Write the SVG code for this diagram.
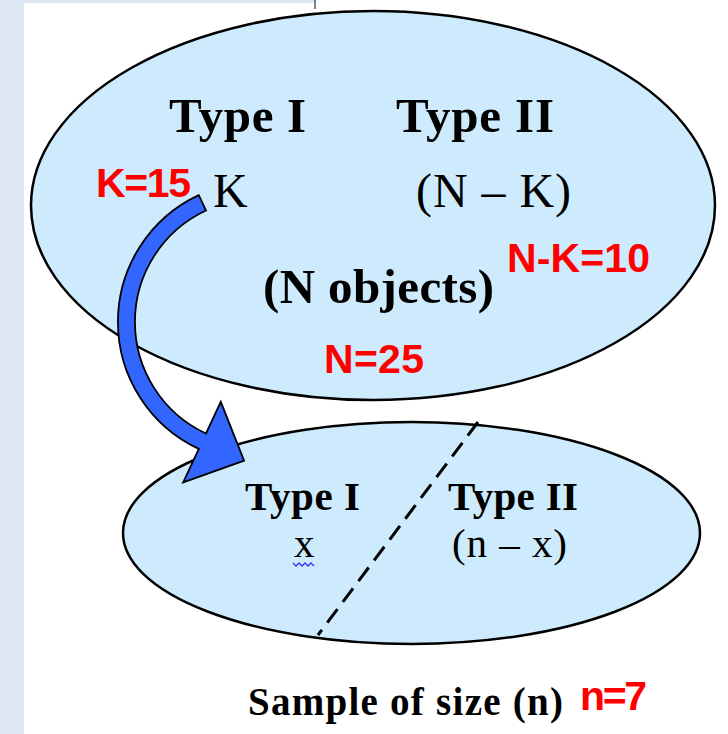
<svg xmlns="http://www.w3.org/2000/svg" width="728" height="734" viewBox="0 0 728 734">
<style>
.ell{fill:#cdebfc;stroke:#000;stroke-width:2.5}
.tb{font-family:"Liberation Serif","Times New Roman",serif;font-weight:bold;fill:#000}
.tr{font-family:"Liberation Serif","Times New Roman",serif;fill:#000}
.red{font-family:"Liberation Sans",Arial,sans-serif;font-weight:bold;fill:#ff0000;font-size:41px}
</style>
<rect x="0" y="0" width="728" height="734" fill="#ffffff"/>
<rect x="0" y="0" width="24" height="734" fill="#dde7f3"/>
<rect x="24" y="0" width="290" height="3" fill="#dde7f3"/>
<line x1="315" y1="0" x2="315" y2="9" stroke="#000" stroke-width="1"/>

<g id="population">
<ellipse class="ell" cx="373" cy="205.5" rx="342" ry="194.5"/>
<text class="tb" x="169" y="132" font-size="49" textLength="137">Type I</text>
<text class="tb" x="396" y="132" font-size="49" textLength="158">Type II</text>
<text class="tr" x="213" y="207" font-size="48">K</text>
<text class="tr" x="416" y="207" font-size="48" textLength="155">(N – K)</text>
<text class="tb" x="263" y="303" font-size="49" textLength="231">(N objects)</text>
<text class="red" x="96" y="197" textLength="95">K=15</text>
<text class="red" x="507" y="272" textLength="143">N-K=10</text>
<text class="red" x="324" y="373" textLength="100">N=25</text>
</g>

<g id="sample">
<ellipse class="ell" cx="411.5" cy="533" rx="288.5" ry="111"/>
<text class="tb" x="245" y="510" font-size="41" textLength="115">Type I</text>
<text class="tb" x="448" y="510" font-size="41" textLength="130">Type II</text>
<text class="tr" x="294" y="557" font-size="41">x</text>
<path d="M293 563 l3 3 l3 -3 l3 3 l3 -3 l3 3 l3 -3 l3 3" fill="none" stroke="#3333ff" stroke-width="1.3"/>
<text class="tr" x="452" y="557" font-size="41" textLength="115">(n – x)</text>
</g>

<g id="caption">
<text class="tb" x="248" y="715" font-size="39" textLength="315">Sample of size (n)</text>
<text class="red" x="580" y="710" textLength="67">n=7</text>
</g>

<g id="connectors">
<line x1="478" y1="422" x2="318" y2="635" stroke="#000" stroke-width="3" stroke-dasharray="17 9"/>
<path d="M198.8 195.1 A140 140 0 0 0 198.8 448.9 L183.2 482.4 L244.1 460.6 L220.8 401.8 L206 433.5 A123 123 0 0 1 206 210.5 Z" fill="#3366ff" stroke="#000" stroke-width="1.8" stroke-linejoin="miter"/>
</g>
</svg>
